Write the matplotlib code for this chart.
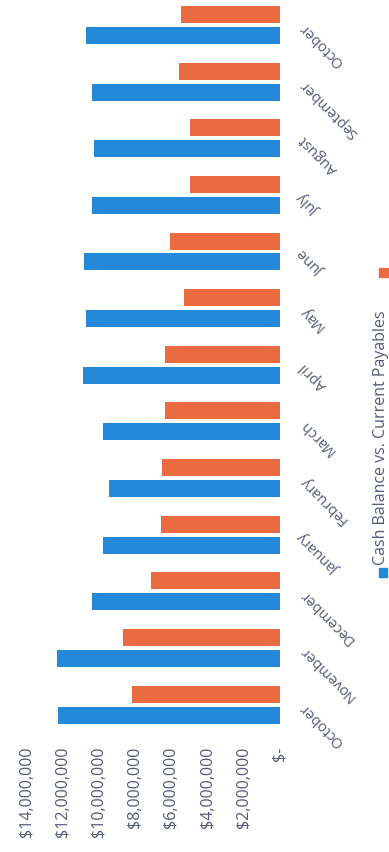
import matplotlib.pyplot as plt
import matplotlib.patches as mpatches
import numpy as np

plt.rcParams['font.family'] = ['Open Sans', 'DejaVu Sans']

# months from the first October to the last one
months = ['October', 'November', 'December', 'January', 'February', 'March',
          'April', 'May', 'June', 'July', 'August', 'September', 'October']
cash_balance = [12.27, 12.3, 10.4, 9.8, 9.45, 9.8, 10.9, 10.7, 10.85, 10.4, 10.3, 10.4, 10.7]
payables = [8.18, 8.7, 7.1, 6.6, 6.5, 6.35, 6.35, 5.3, 6.1, 5.0, 5.0, 5.6, 5.45]
value_ticks = [0, 2, 4, 6, 8, 10, 12, 14]
legend_label = 'Cash Balance vs. Current Payables'

blue = '#2389d8'
orange = '#ec6a3f'
txt = '#55597a'

fig = plt.figure(figsize=(3.89, 8.52), dpi=100)
ax = fig.add_axes([26.6 / 389, 1 - 733 / 852, (280 - 26.6) / 389, 736.4 / 852])

y = np.arange(len(months))
cash = np.array(cash_balance) * 1e6
pay = np.array(payables) * 1e6
ax.barh(y - 0.185, cash, height=0.3, color=blue)
ax.barh(y + 0.185, pay, height=0.3, color=orange)

ax.set_xlim(14e6, 0)
ax.set_ylim(-0.5, len(months) - 0.5)

ax.set_xticks([v * 1e6 for v in value_ticks])
ax.set_xticklabels(['$-' if v == 0 else '${:,}'.format(v * 1000000) for v in value_ticks],
                   rotation=90, ha='center', va='top', fontsize=11.5, color=txt)

ax.yaxis.tick_right()
ax.set_yticks(y)
ax.set_yticklabels(months, rotation=135, ha='right', va='center',
                   rotation_mode='anchor', fontsize=10.5, color=txt)
ax.tick_params(axis='both', length=0)
ax.tick_params(axis='y', pad=16)
ax.tick_params(axis='x', pad=10)

for s in ax.spines.values():
    s.set_visible(False)

# legend, turned like the rest of the page
fig.patches.append(mpatches.Rectangle((379 / 389, 1 - 577 / 852), 8 / 389, 9 / 852,
                                      transform=fig.transFigure, color=blue))
fig.patches.append(mpatches.Rectangle((379 / 389, 1 - 277 / 852), 9 / 389, 9 / 852,
                                      transform=fig.transFigure, color=orange))
fig.text(381 / 389, 1 - 565 / 852, legend_label, rotation=90, ha='center', va='bottom',
         fontsize=11.5, color=txt)

fig.savefig('out.png', dpi=100)
